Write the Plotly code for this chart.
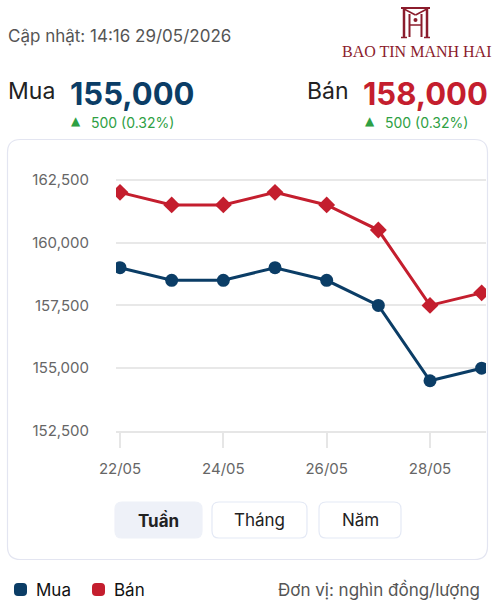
import plotly.graph_objects as go

W, H = 501, 605

dates = ["2026-05-22", "2026-05-23", "2026-05-24", "2026-05-25",
         "2026-05-26", "2026-05-27", "2026-05-28", "2026-05-29"]
mua = [159000, 158500, 158500, 159000, 158500, 157500, 154500, 155000]
ban = [162000, 161500, 161500, 162000, 161500, 160500, 157500, 158000]
y_ticks = [152500, 155000, 157500, 160000, 162500]

updated = "Cập nhật: 14:16 29/05/2026"
mua_price = "155,000"
ban_price = "158,000"
mua_change = "500 (0.32%)"
ban_change = "500 (0.32%)"
buttons = ["Tuần", "Tháng", "Năm"]
unit = "Đơn vị: nghìn đồng/lượng"

BLUE = "#0b3d66"
RED = "#c41e2e"
GREEN = "#2ea043"
LOGO = "#8b1c2c"
FONT = "Inter"


def px(x):
    return x / W


def py(y):
    return 1 - y / H


def rrect(x0, y0, x1, y1, r):
    pts = [
        ("M", [(x0 + r, y0)]), ("L", [(x1 - r, y0)]),
        ("Q", [(x1, y0), (x1, y0 + r)]), ("L", [(x1, y1 - r)]),
        ("Q", [(x1, y1), (x1 - r, y1)]), ("L", [(x0 + r, y1)]),
        ("Q", [(x0, y1), (x0, y1 - r)]), ("L", [(x0, y0 + r)]),
        ("Q", [(x0, y0), (x0 + r, y0)]),
    ]
    s = ""
    for cmd, ps in pts:
        s += cmd + " " + " ".join(f"{px(a):.5f},{py(b):.5f}" for a, b in ps) + " "
    return s + "Z"


fig = go.Figure()
fig.add_trace(go.Scatter(x=dates, y=mua, mode="lines+markers", name="Mua",
                         line=dict(color=BLUE, width=3),
                         marker=dict(symbol="circle", size=13, color=BLUE)))
fig.add_trace(go.Scatter(x=dates, y=ban, mode="lines+markers", name="Bán",
                         line=dict(color=RED, width=3),
                         marker=dict(symbol="diamond", size=13, color=RED)))

shapes = []
anns = []

# card
shapes.append(dict(type="path", xref="paper", yref="paper", path=rrect(7.5, 139.5, 487.5, 559.5, 13),
                   line=dict(color="#e3e5f1", width=1.2), fillcolor="rgba(0,0,0,0)", layer="below"))

# buttons
btn_geo = [(115, 202), (212, 307), (319, 401)]
for i, (label, (a, b)) in enumerate(zip(buttons, btn_geo)):
    active = i == 0
    shapes.append(dict(type="path", xref="paper", yref="paper", path=rrect(a, 502, b, 538, 7),
                       line=dict(color="#eef1f8" if active else "#e4e9f5", width=1.2),
                       fillcolor="#eef1f8" if active else "white", layer="below"))
    anns.append(dict(x=px((a + b) / 2), y=py(520), xref="paper", yref="paper",
                     text=f"<b>{label}</b>" if active else label, showarrow=False,
                     xanchor="center", yanchor="middle",
                     font=dict(family=FONT, size=17, color="#222")))

# legend markers
for (x0, col) in [(14, BLUE), (92, RED)]:
    shapes.append(dict(type="path", xref="paper", yref="paper", path=rrect(x0, 583, x0 + 13, 596, 4),
                       line=dict(color=col, width=0), fillcolor=col))
anns.append(dict(x=px(34), y=py(590), xref="paper", yref="paper", text="Mua", showarrow=False,
                 xanchor="left", yanchor="middle", font=dict(family=FONT, size=17, color="#111")))
anns.append(dict(x=px(112), y=py(590), xref="paper", yref="paper", text="Bán", showarrow=False,
                 xanchor="left", yanchor="middle", font=dict(family=FONT, size=17, color="#111")))
anns.append(dict(x=px(482), y=py(589), xref="paper", yref="paper", text=unit, showarrow=False,
                 xanchor="right", yanchor="middle", font=dict(family=FONT, size=17, color="#555")))

# header
anns.append(dict(x=px(6), y=py(36), xref="paper", yref="paper", text=updated, showarrow=False,
                 xanchor="left", yanchor="middle", font=dict(family=FONT, size=17, color="#555")))

# prices
anns.append(dict(x=px(6), y=py(91), xref="paper", yref="paper", text="Mua", showarrow=False,
                 xanchor="left", yanchor="middle", font=dict(family=FONT, size=23, color="#222")))
anns.append(dict(x=px(68), y=py(93), xref="paper", yref="paper", text=f"<b>{mua_price}</b>", showarrow=False,
                 xanchor="left", yanchor="middle", font=dict(family=FONT, size=31, color=BLUE)))
anns.append(dict(x=px(305), y=py(91), xref="paper", yref="paper", text="Bán", showarrow=False,
                 xanchor="left", yanchor="middle", font=dict(family=FONT, size=23, color="#222")))
anns.append(dict(x=px(361), y=py(93), xref="paper", yref="paper", text=f"<b>{ban_price}</b>", showarrow=False,
                 xanchor="left", yanchor="middle", font=dict(family=FONT, size=31, color=RED)))
for (tx, text) in [(69, mua_change), (363, ban_change)]:
    anns.append(dict(x=px(tx), y=py(121), xref="paper", yref="paper", text="▲", showarrow=False,
                     xanchor="left", yanchor="middle", font=dict(family="DejaVu Sans", size=12, color=GREEN)))
    anns.append(dict(x=px(tx + 20), y=py(122), xref="paper", yref="paper", text=text, showarrow=False,
                     xanchor="left", yanchor="middle", font=dict(family=FONT, size=14, color=GREEN)))

# logo
anns.append(dict(x=px(416), y=py(51), xref="paper", yref="paper", text="BAO TIN MANH HAI", showarrow=False,
                 xanchor="center", yanchor="middle",
                 font=dict(family="Liberation Serif", size=16, color=LOGO)))
logo_lines = [
    ((401, 8), (430, 8), 2), ((404, 8), (404, 37), 2.5), ((427, 8), (427, 37), 2.5),
    ((401, 37.5), (407, 37.5), 1.5), ((424, 37.5), (430, 37.5), 1.5),
    ((404, 9), (415.5, 15), 1.5), ((427, 9), (415.5, 15), 1.5),
    ((409.5, 14), (409.5, 37), 2), ((421.5, 14), (421.5, 37), 2),
    ((409.5, 25), (421.5, 25), 1.5),
]
for (a, b, w) in logo_lines:
    shapes.append(dict(type="line", xref="paper", yref="paper", x0=px(a[0]), y0=py(a[1]),
                       x1=px(b[0]), y1=py(b[1]), line=dict(color=LOGO, width=w)))
shapes.append(dict(type="circle", xref="paper", yref="paper", x0=px(413.5), y0=py(18), x1=px(417.5), y1=py(22),
                   line=dict(color=LOGO, width=0), fillcolor=LOGO))

fig.update_layout(
    width=W, height=H,
    margin=dict(l=0, r=0, t=0, b=0, autoexpand=False),
    paper_bgcolor="white", plot_bgcolor="rgba(0,0,0,0)",
    showlegend=False,
    shapes=shapes, annotations=anns,
    xaxis=dict(domain=[px(116), px(486)], type="date", automargin=False,
               range=["2026-05-21 22:08", "2026-05-29 02:01"],
               tickformat="%d/%m", dtick=2 * 86400000, tick0="2026-05-22",
               showgrid=False, zeroline=False,
               showline=True, linecolor="#e6e6e6", linewidth=2,
               ticks="outside", ticklen=15, tickcolor="#e6e6e6", tickwidth=2,
               ticklabelstandoff=8,
               tickfont=dict(family=FONT, size=15, color="#666"),
               fixedrange=True),
    yaxis=dict(domain=[py(431), py(167.24)], range=[152500, 163000], automargin=False,
               tickvals=y_ticks, tickformat=",d",
               showgrid=True, gridcolor="#e8e8e8", gridwidth=1.5,
               zeroline=False, showline=False, ticks="",
               ticklabelstandoff=26,
               tickfont=dict(family=FONT, size=15, color="#666"),
               fixedrange=True),
)

fig.write_html("out.html")
